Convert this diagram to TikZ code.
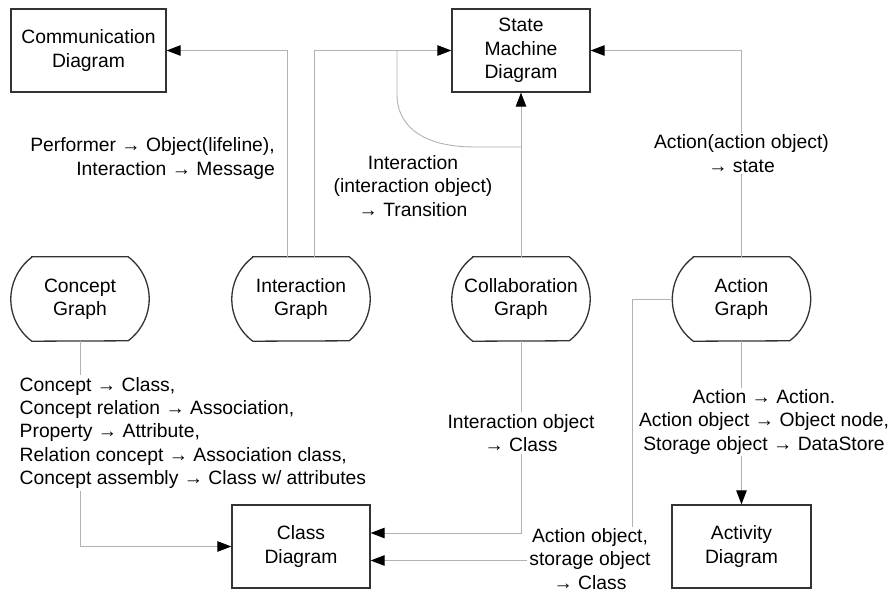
\documentclass[tikz,border=0pt]{standalone}
\usepackage{fontspec}
\setmainfont{Liberation Sans}
\usetikzlibrary{arrows.meta}

% outline of a "graph" node: flat top and bottom, arcs on both sides
\newcommand\drawgraphshape[1]{%
  \draw[gshape] ([xshift=21pt]#1.north west) -- ([xshift=-21pt]#1.north east)
    arc[start angle=53.13, end angle=-53.13, radius=52.5pt]
    -- ([xshift=21pt]#1.south west)
    arc[start angle=233.13, end angle=126.87, radius=52.5pt] -- cycle;}

\begin{document}
\begin{tikzpicture}[x=1pt, y=1pt,
  font=\fontsize{19.3}{23.3}\selectfont,
  diag/.style={draw=black!80, line width=1.3pt, minimum width=138pt,
    minimum height=83pt, align=center, inner sep=0pt},
  graphnode/.style={minimum width=138pt, minimum height=84pt,
    align=center, inner sep=0pt},
  gshape/.style={draw=black!80, line width=1.3pt},
  conn/.style={draw=black!30, line width=0.9pt},
  tip/.style={-{Triangle[length=14pt, width=10.5pt, color=black]}},
  lbl/.style={fill=white, inner sep=2pt, align=center},
]
\useasboundingbox (0,0) rectangle (892,-594);

% diagrams
\node[diag, minimum width=155pt] (comm) at (88.5,-50.5) {Communication\\Diagram};
\node[diag] (sm) at (521,-50.5) {State\\Machine\\Diagram};
\node[diag] (cd) at (301,-546.5) {Class\\Diagram};
\node[diag, minimum width=139pt] (ad) at (741.5,-546.5) {Activity\\Diagram};

% graphs
\node[graphnode] (cg) at (80,-299) {Concept\\Graph};
\node[graphnode] (ig) at (301,-299) {Interaction\\Graph};
\node[graphnode] (colg) at (521,-299) {Collaboration\\Graph};
\node[graphnode] (ag) at (741.5,-299) {Action\\Graph};
\foreach \g in {cg, ig, colg, ag} {\drawgraphshape{\g}}

% interaction graph -> communication / state machine
\draw[conn, tip] ([xshift=-14pt]ig.north) |- (comm.east);
\draw[conn, tip] ([xshift=13pt]ig.north) |- (sm.west);
\node[align=right, anchor=east, inner sep=2pt] (plbl) at (277,-158.5)
  {Performer → Object(lifeline),\\Interaction → Message};

% collaboration graph -> state machine, with branch joining the top line
\draw[conn, tip] (colg.north) -- (sm.south);
\coordinate (merge) at (colg.north |- 0,-147);
\coordinate (join) at (397,-50.5);
\draw[conn] (merge) -- (475,-147) .. controls (415,-147) and (397,-120) .. (397,-95) -- (join);
\node[align=center, inner sep=2pt] (tlbl) at (413,-186)
  {Interaction\\(interaction object)\\→ Transition};

% action graph -> state machine
\draw[conn, tip] (ag.north) |- node[lbl, pos=0.25] (albl)
  {Action(action object)\\→ state} (sm.east);

% concept graph -> class diagram
\draw[conn, tip] (cg.south) |- (cd.west);
\node[lbl, align=left, anchor=west] (clbl) at (17.5,-433)
  {Concept → Class,\\Concept relation → Association,\\Property → Attribute,\\Relation concept → Association class,\\Concept assembly → Class w/ attributes};

% collaboration graph -> class diagram
\draw[conn, tip] (colg.south) |- ([yshift=13.5pt]cd.east);
\node[lbl] (iolbl) at (521,-433) {Interaction object\\→ Class};

% action graph -> activity diagram
\draw[conn, tip] (ag.south) -- (ad.north);
\node[lbl] (aclbl) at (764,-422)
  {Action → Action.\\Action object → Object node,\\Storage object → DataStore};

% action graph -> class diagram
\coordinate (bend) at (632,-560.5);
\draw[conn, tip] (ag.west) -| (bend) -- ([yshift=-14pt]cd.east);
\node[lbl] (aolbl) at (590,-559) {Action object,\\storage object\\→ Class};
\end{tikzpicture}
\end{document}
